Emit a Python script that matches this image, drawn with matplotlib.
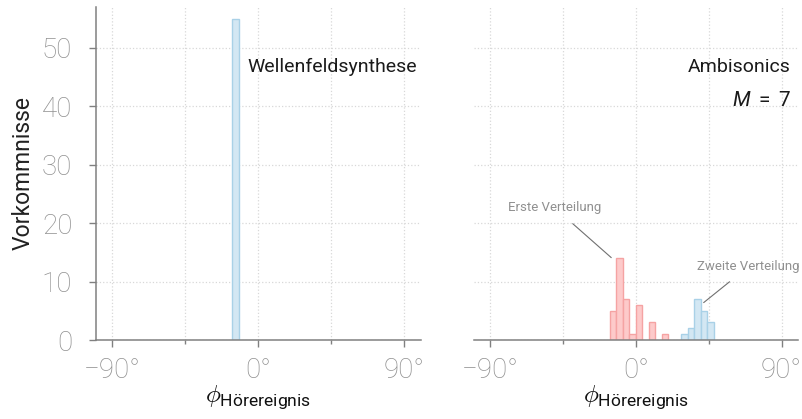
import matplotlib
matplotlib.use('Agg')
import matplotlib.pyplot as plt
from matplotlib.ticker import FixedLocator, FuncFormatter

# histogram data: left bin edges (deg), bin width 4 deg
wfs_edges = [-16]
wfs_counts = [55]
amb_first_edges = [-16, -12, -8, -4, 0, 8, 16]
amb_first_counts = [5, 14, 7, 1, 6, 3, 1]
amb_second_edges = [28, 32, 36, 40, 44]
amb_second_counts = [1, 2, 7, 5, 3]
bin_width = 4

xticks_major = [-90, 0, 90]
xticks_minor = [-45, 45]
yticks = [0, 10, 20, 30, 40, 50]

plt.rcParams['font.family'] = ['Roboto', 'DejaVu Sans']
plt.rcParams['mathtext.fontset'] = 'custom'
plt.rcParams['mathtext.rm'] = 'Roboto'
plt.rcParams['mathtext.it'] = 'Roboto:italic'

red_fill, red_edge = '#fdcaca', '#f5a3a3'
blue_fill, blue_edge = '#d3e7f3', '#a9d1e7'
spine_col = '#808080'
tick_col = '#909090'
grid_col = '#d8d8d8'

fig = plt.figure(figsize=(8.02, 4.19), dpi=100)
ax1 = fig.add_axes([96 / 802, 79 / 419, 324.7 / 802, 333 / 419])
ax2 = fig.add_axes([474 / 802, 79 / 419, 323.7 / 802, 333 / 419])


def deg_fmt(v, pos):
    return '\u221290°' if v < 0 else f'{int(v)}°'


for ax in (ax1, ax2):
    ax.set_xlim(-100, 100)
    ax.set_ylim(0, 57)
    ax.xaxis.set_major_locator(FixedLocator(xticks_major))
    ax.xaxis.set_minor_locator(FixedLocator(xticks_minor))
    ax.xaxis.set_major_formatter(FuncFormatter(deg_fmt))
    ax.set_yticks(yticks)
    ax.grid(True, which='both', axis='x', linestyle=':', color=grid_col, linewidth=0.9)
    ax.grid(True, which='major', axis='y', linestyle=':', color=grid_col, linewidth=0.9)
    ax.set_axisbelow(True)
    for s in ('top', 'right'):
        ax.spines[s].set_visible(False)
    for s in ('left', 'bottom'):
        ax.spines[s].set_color(spine_col)
        ax.spines[s].set_linewidth(1.1)
    ax.tick_params(which='major', length=5, width=1, color=spine_col,
                   labelsize=20, labelcolor=tick_col)
    ax.tick_params(axis='x', pad=7)
    ax.tick_params(axis='y', pad=12)
    ax.tick_params(which='minor', length=3, width=1, color=spine_col)
    for lbl in ax.get_xticklabels() + ax.get_yticklabels():
        lbl.set_fontweight('light')
    ax.set_xlabel(r'$\phi_{\mathrm{Hörereignis}}$', fontsize=18, labelpad=0, color='#111111')

ax1.set_ylabel('Vorkommnisse', fontsize=16.5, labelpad=5, color='#222222')
ax2.spines['left'].set_visible(False)
ax2.tick_params(axis='y', left=False, labelleft=False)

ax1.bar(wfs_edges, wfs_counts, width=bin_width, align='edge',
        color=blue_fill, edgecolor=blue_edge, linewidth=1)
ax2.bar(amb_first_edges, amb_first_counts, width=bin_width, align='edge',
        color=red_fill, edgecolor=red_edge, linewidth=1)
ax2.bar(amb_second_edges, amb_second_counts, width=bin_width, align='edge',
        color=blue_fill, edgecolor=blue_edge, linewidth=1)

ax1.text(-7, 46.8, 'Wellenfeldsynthese', fontsize=14, va='center', ha='left', color='#1a1a1a')
ax2.text(95.5, 46.8, 'Ambisonics', fontsize=14, va='center', ha='right', color='#1a1a1a')
ax2.text(95.5, 41, r'$M\;=\;7$', fontsize=15, va='center', ha='right', color='#1a1a1a')

ax2.annotate('Erste Verteilung', xy=(-15.2, 14.1), xytext=(-50, 22.6),
             fontsize=9.5, color=tick_col, ha='center', va='center',
             arrowprops=dict(arrowstyle='-', color='#707070', lw=0.8, shrinkA=7, shrinkB=0))
ax2.annotate('Zweite Verteilung', xy=(41.9, 6.4), xytext=(69.7, 12.6),
             fontsize=9.5, color=tick_col, ha='center', va='center',
             arrowprops=dict(arrowstyle='-', color='#707070', lw=0.8, shrinkA=7, shrinkB=0))

fig.savefig('out.png', dpi=100)
